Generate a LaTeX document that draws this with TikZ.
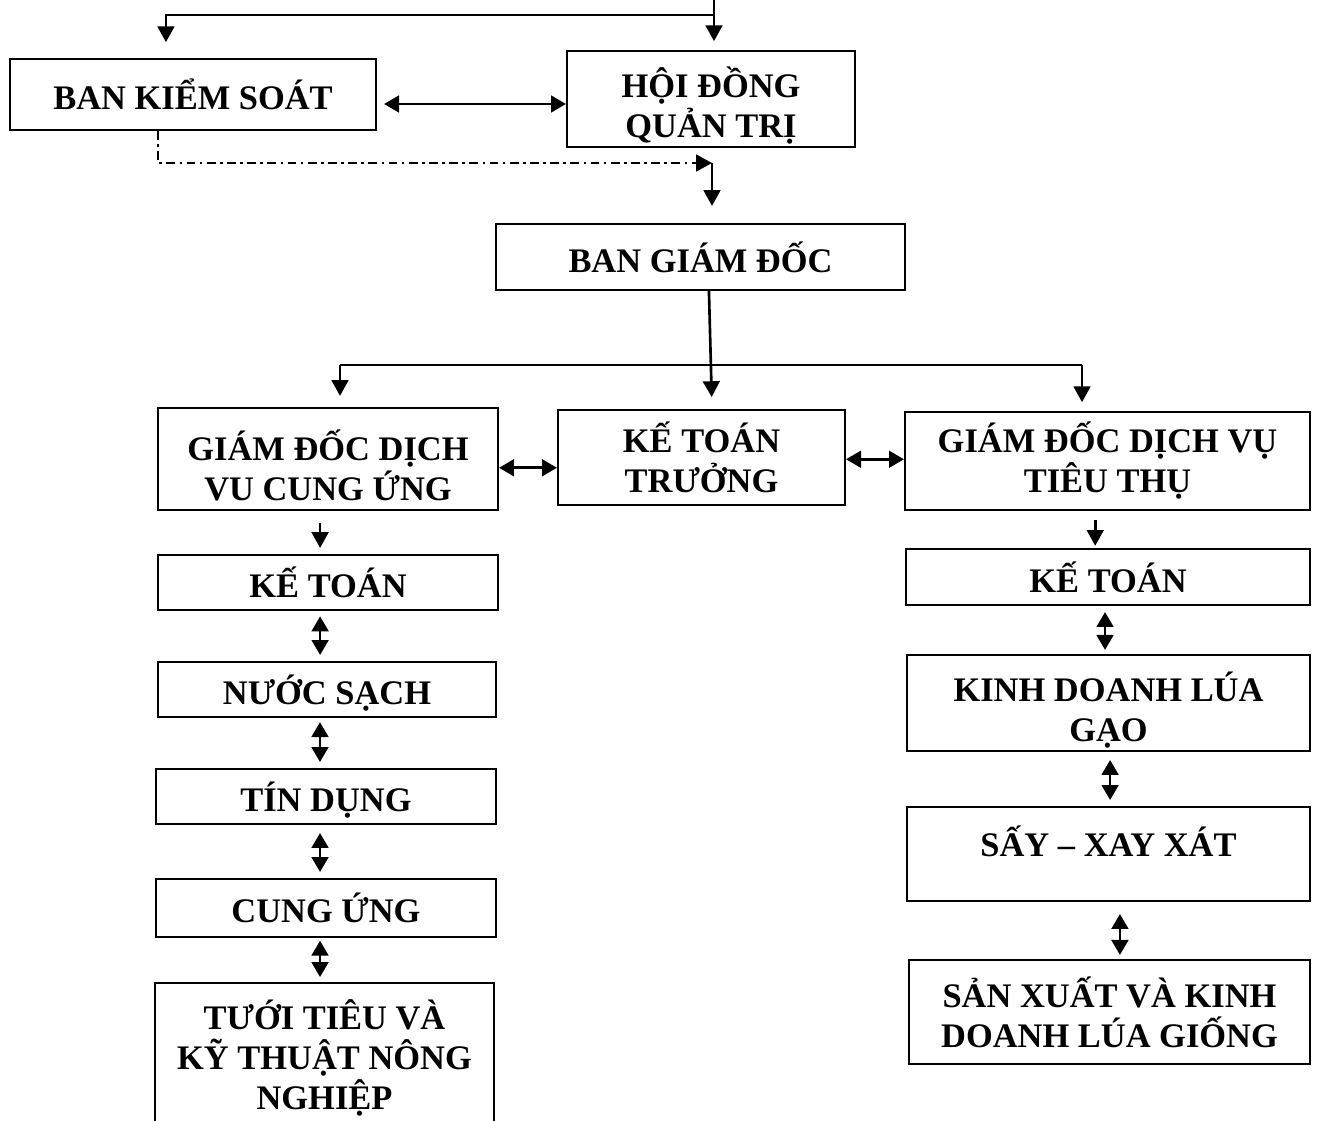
\documentclass[tikz,border=0pt]{standalone}
\usepackage{fontspec}
\setmainfont{Liberation Serif}
\usetikzlibrary{arrows.meta,calc}
\newcommand{\tallstrut}{\rule{0pt}{24.5pt}}
\begin{document}
\begin{tikzpicture}[x=0.02cm,y=-0.02cm,
  orgbox/.style 2 args={draw, line width=1.2pt, minimum width=#1*0.02cm, minimum height=#2*0.02cm, inner sep=0pt, align=center, font=\fontsize{19.6}{22.8}\selectfont\bfseries},
  arr/.style={line width=1.5pt, -{Triangle[length=9pt,width=9.5pt]}},
  dbl/.style={line width=1.5pt, {Triangle[length=8.5pt,width=9.5pt]}-{Triangle[length=8.5pt,width=9.5pt]}},
  dd/.style={line width=1.3pt, dash pattern=on 5pt off 2.5pt on 1.5pt off 2.5pt, -{Triangle[length=9pt,width=9.5pt]}}]
\useasboundingbox (0,0) rectangle (1327,1120);
% nodes
\node[orgbox={366}{71}] (bks) at (193,94.5) {BAN KIỂM SOÁT};
\node[orgbox={288}{96}] (hdqt) at (711,99) {\tallstrut HỘI ĐỒNG\\QUẢN TRỊ};
\node[orgbox={409}{66}] (bgd) at (700.5,257) {BAN GIÁM ĐỐC};
\node[orgbox={340}{102}] (gdcu) at (328,459) {\tallstrut GIÁM ĐỐC DỊCH\\VU CUNG ỨNG};
\node[orgbox={287}{95}] (ktt) at (701.5,457.5) {KẾ TOÁN\\TRƯỞNG};
\node[orgbox={405}{98}] (gdtt) at (1107.5,461) {GIÁM ĐỐC DỊCH VỤ\\TIÊU THỤ};
% left column
\node[orgbox={340}{55}] (lkt) at (328,582.5) {KẾ TOÁN};
\node[orgbox={338}{55}, text height=17pt, text depth=0pt] (lns) at (327,689.5) {NƯỚC SẠCH};
\node[orgbox={340}{55}, text height=17pt, text depth=0pt] (ltd) at (326,796.5) {TÍN DỤNG};
\node[orgbox={340}{58}] (lcu) at (326,908) {CUNG ỨNG};
\node[orgbox={339}{150}] (ltt) at (324.5,1058) {TƯỚI TIÊU VÀ\\KỸ THUẬT NÔNG\\NGHIỆP};
% right column
\node[orgbox={404}{56}] (rkt) at (1108,577) {KẾ TOÁN};
\node[orgbox={403}{96}] (rkd) at (1108.5,703) {\tallstrut KINH DOANH LÚA\\GẠO};
\node[orgbox={403}{94}, text depth=14.5pt] (rsx) at (1108.5,854) {SẤY – XAY XÁT};
\node[orgbox={401}{104}] (rsp) at (1109.5,1012) {SẢN XUẤT VÀ KINH\\DOANH LÚA GIỐNG};
% top connectors
\coordinate (top) at (714,0);
\coordinate (tj) at (714,15);
\draw[arr, shorten >=5pt] (top) -- (top |- hdqt.north);
\draw[arr, shorten >=9pt] (tj) -| ([xshift=-15.4pt]bks.north);
\draw[dbl, shorten <=4pt] ([yshift=-5.4pt]bks.east) -- ([yshift=-5.4pt]bks.east -| hdqt.west);
\coordinate (dj) at (712,163);
\draw[dd] ([xshift=-20pt]bks.south) |- (dj);
\draw[arr, shorten >=9.7pt] (dj) -- (dj |- bgd.north);
% from BGD
\draw[arr, shorten >=6.8pt] ([xshift=4.8pt]bgd.south) -- ([xshift=6pt]ktt.north);
\coordinate (hl) at (340,365);
\coordinate (hr) at (1082,365);
\draw[line width=1.4pt] (hl) -- (hr);
\draw[arr, shorten >=6.3pt] (hl) -- (hl |- gdcu.north);
\draw[arr, shorten >=5pt] (hr) -- (hr |- gdtt.north);
\draw[dbl] ([yshift=-5pt]gdcu.east) -- ([yshift=-5pt]gdcu.east -| ktt.west);
\draw[dbl] ([yshift=-1pt]ktt.east) -- ([yshift=-1pt]ktt.east -| gdtt.west);
% left column connectors
\draw[arr, shorten <=6.8pt, shorten >=3.4pt] ([xshift=-4.5pt]gdcu.south) -- ([xshift=-4.5pt]gdcu.south |- lkt.north);
\draw[dbl, shorten <=3pt, shorten >=3.4pt] ([xshift=-4.5pt]lkt.south) -- ([xshift=-4.5pt]lkt.south |- lns.north);
\draw[dbl, shorten <=2.3pt, shorten >=3.4pt] ([xshift=-4pt]lns.south) -- ([xshift=-4pt]lns.south |- ltd.north);
\draw[dbl, shorten <=4.5pt, shorten >=3.4pt] ([xshift=-3.4pt]ltd.south) -- ([xshift=-3.4pt]ltd.south |- lcu.north);
\draw[dbl, shorten <=1.5pt, shorten >=2.8pt] ([xshift=-3.4pt]lcu.south) -- ([xshift=-3.4pt]lcu.south |- ltt.north);
% right column connectors
\draw[arr, shorten <=5pt, shorten >=1.2pt] ([xshift=-7pt]gdtt.south) -- ([xshift=-7pt]gdtt.south |- rkt.north);
\draw[dbl, shorten <=3.4pt, shorten >=2.3pt] ([xshift=-1.7pt]rkt.south) -- ([xshift=-1.7pt]rkt.south |- rkd.north);
\draw[dbl, shorten <=4.5pt, shorten >=3.4pt] ([xshift=0.9pt]rkd.south) -- ([xshift=0.9pt]rkd.south |- rsx.north);
\draw[dbl, shorten <=6.8pt, shorten >=2.3pt] ([xshift=6.5pt]rsx.south) -- ([xshift=6.5pt]rsx.south |- rsp.north);
\end{tikzpicture}
\end{document}
